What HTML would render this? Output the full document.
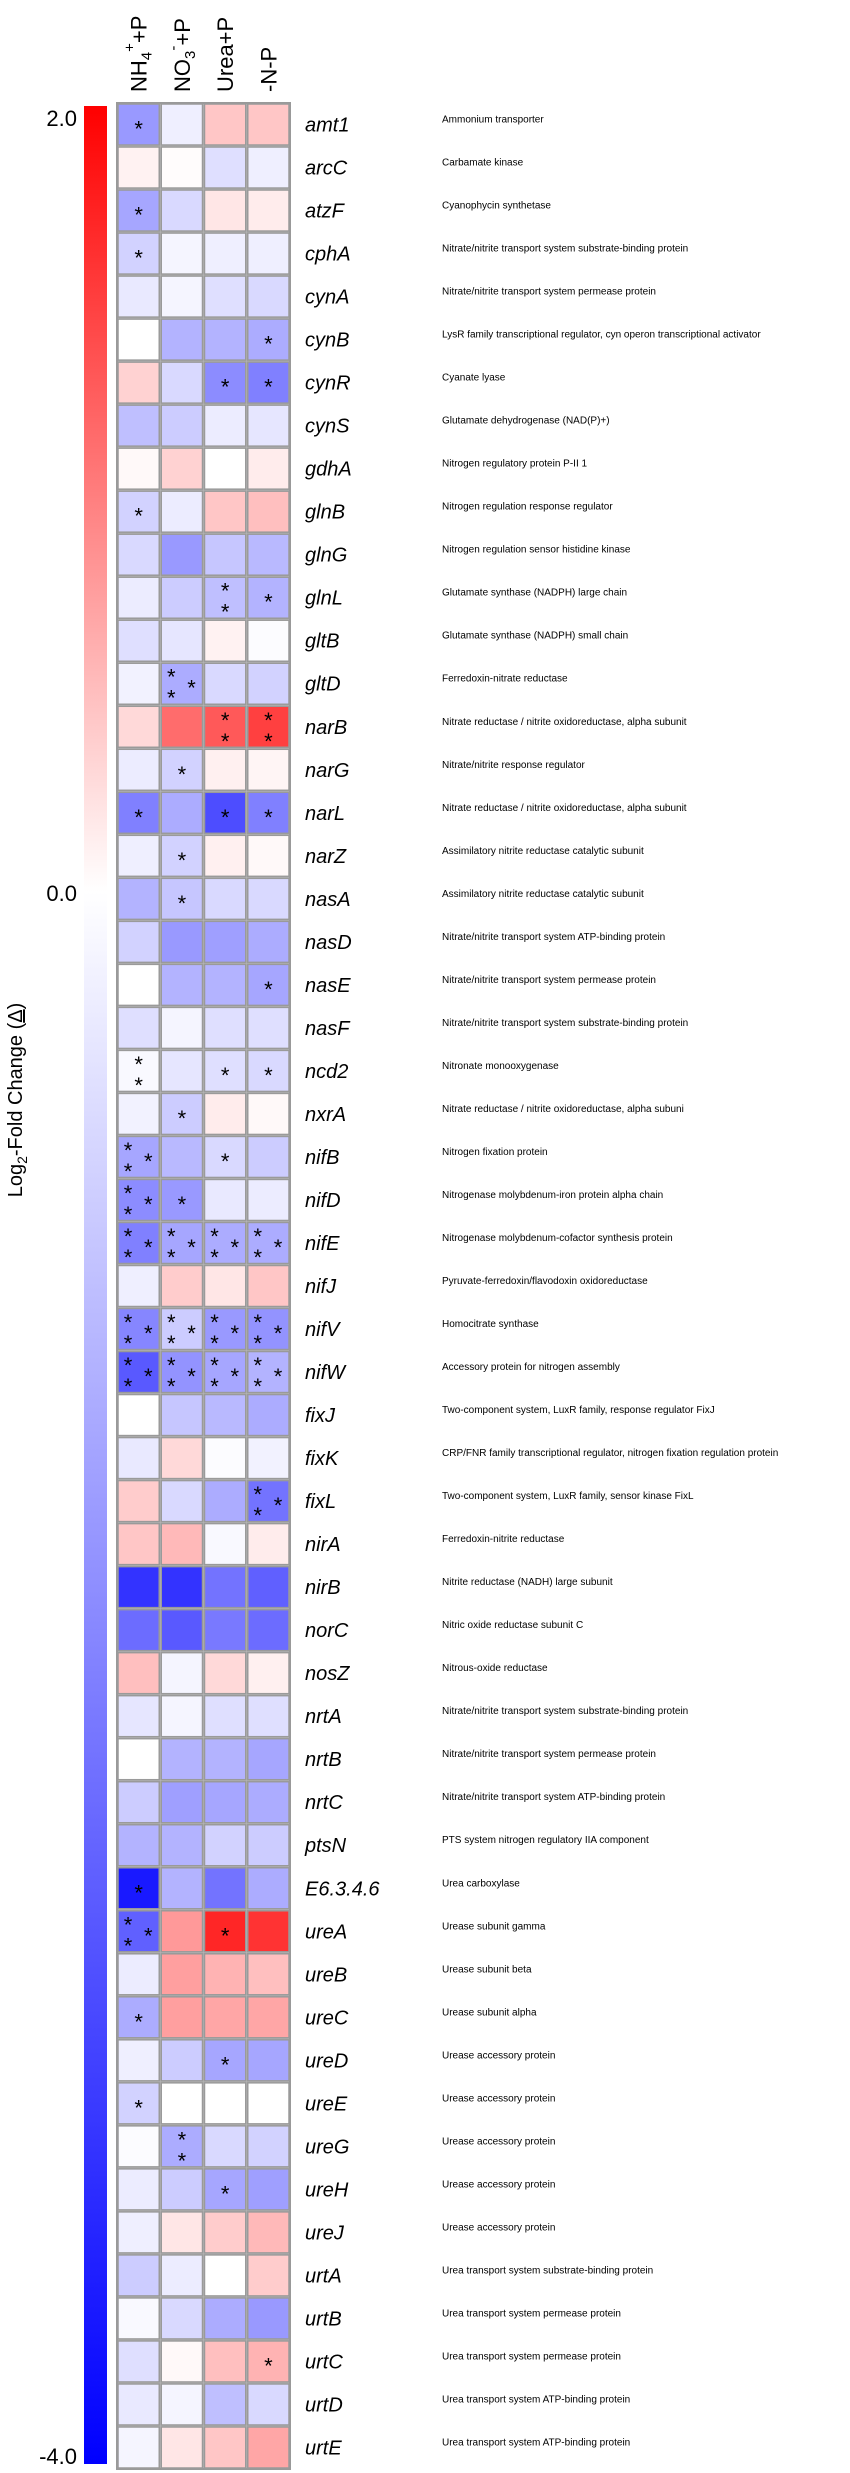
<!DOCTYPE html>
<html><head><meta charset="utf-8"><style>
html,body{margin:0;padding:0;background:#fff;}
svg{display:block;font-family:"Liberation Sans",Arial,sans-serif;}
</style></head><body>
<svg id="chart" width="850" height="2473" viewBox="0 0 850 2473" xmlns="http://www.w3.org/2000/svg">
<defs>
<linearGradient id="cbar" x1="0" y1="0" x2="0" y2="1">
<stop offset="0" stop-color="#ff0000"/><stop offset="0.3333" stop-color="#ffffff"/><stop offset="1" stop-color="#0000ff"/>
</linearGradient>
</defs>
<rect x="84" y="106" width="23" height="2358" fill="url(#cbar)"/>
<g font-size="22" text-anchor="end" fill="#000">
<text x="77" y="126">2.0</text>
<text x="77" y="901">0.0</text>
<text x="77" y="2464">-4.0</text>
</g>
<text transform="translate(22,1100) rotate(-90)" text-anchor="middle" font-size="20">Log<tspan font-size="14" dy="5">2</tspan><tspan dy="-5">-Fold Change (</tspan><tspan text-decoration="underline">Δ</tspan>)</text>
<g id="headers" font-size="22" fill="#000"></g>
<rect x="117" y="103" width="173" height="2366" fill="#bbb" stroke="#999" stroke-width="2"/>
<g id="cells"></g>
<g id="labels"></g>
</svg>
<script>
const genes=["amt1","arcC","atzF","cphA","cynA","cynB","cynR","cynS","gdhA","glnB","glnG","glnL","gltB","gltD","narB","narG","narL","narZ","nasA","nasD","nasE","nasF","ncd2","nxrA","nifB","nifD","nifE","nifJ","nifV","nifW","fixJ","fixK","fixL","nirA","nirB","norC","nosZ","nrtA","nrtB","nrtC","ptsN","E6.3.4.6","ureA","ureB","ureC","ureD","ureE","ureG","ureH","ureJ","urtA","urtB","urtC","urtD","urtE"];
const descriptions=["Ammonium transporter","Carbamate kinase","Cyanophycin synthetase","Nitrate/nitrite transport system substrate-binding protein","Nitrate/nitrite transport system permease protein","LysR family transcriptional regulator, cyn operon transcriptional activator","Cyanate lyase","Glutamate dehydrogenase (NAD(P)+)","Nitrogen regulatory protein P-II 1","Nitrogen regulation response regulator","Nitrogen regulation sensor histidine kinase","Glutamate synthase (NADPH) large chain","Glutamate synthase (NADPH) small chain","Ferredoxin-nitrate reductase","Nitrate reductase / nitrite oxidoreductase, alpha subunit","Nitrate/nitrite response regulator","Nitrate reductase / nitrite oxidoreductase, alpha subunit","Assimilatory nitrite reductase catalytic subunit","Assimilatory nitrite reductase catalytic subunit","Nitrate/nitrite transport system ATP-binding protein","Nitrate/nitrite transport system permease protein","Nitrate/nitrite transport system substrate-binding protein","Nitronate monooxygenase","Nitrate reductase / nitrite oxidoreductase, alpha subuni","Nitrogen fixation protein","Nitrogenase molybdenum-iron protein alpha chain","Nitrogenase molybdenum-cofactor synthesis protein","Pyruvate-ferredoxin/flavodoxin oxidoreductase","Homocitrate synthase","Accessory protein for nitrogen assembly","Two-component system, LuxR family, response regulator FixJ","CRP/FNR family transcriptional regulator, nitrogen fixation regulation protein","Two-component system, LuxR family, sensor kinase FixL","Ferredoxin-nitrite reductase","Nitrite reductase (NADH) large subunit","Nitric oxide reductase subunit C","Nitrous-oxide reductase","Nitrate/nitrite transport system substrate-binding protein","Nitrate/nitrite transport system permease protein","Nitrate/nitrite transport system ATP-binding protein","PTS system nitrogen regulatory IIA component","Urea carboxylase","Urease subunit gamma","Urease subunit beta","Urease subunit alpha","Urease accessory protein","Urease accessory protein","Urease accessory protein","Urease accessory protein","Urease accessory protein","Urea transport system substrate-binding protein","Urea transport system permease protein","Urea transport system permease protein","Urea transport system ATP-binding protein","Urea transport system ATP-binding protein"];
const conditions=["NH4+P","NO3-+P","Urea+P","-N-P"];
const valNH4=[-1.6,0.1,-1.4,-0.7,-0.35,0,0.35,-1.0,0.05,-0.7,-0.6,-0.3,-0.5,-0.2,0.3,-0.3,-2.0,-0.25,-1.2,-0.7,0,-0.5,-0.1,-0.2,-1.4,-1.8,-2.0,-0.25,-1.9,-2.6,0,-0.35,0.4,0.45,-3.2,-2.3,0.5,-0.4,0,-0.8,-1.2,-3.6,-2.5,-0.3,-1.3,-0.25,-0.7,-0.05,-0.3,-0.25,-0.8,-0.1,-0.5,-0.35,-0.15];
const valNO3=[-0.25,0.02,-0.6,-0.15,-0.15,-1.2,-0.6,-0.8,0.35,-0.3,-1.6,-0.8,-0.4,-1.3,1.15,-0.7,-1.3,-0.7,-0.9,-1.6,-1.2,-0.15,-0.4,-0.8,-1.1,-1.6,-1.4,0.4,-0.8,-1.7,-0.9,0.3,-0.6,0.55,-3.2,-2.6,-0.15,-0.15,-1.2,-1.5,-1.2,-1.2,0.8,0.75,0.75,-0.8,0,-1.3,-0.8,0.2,-0.3,-0.6,0.05,-0.15,0.2];
const valUrea=[0.45,-0.5,0.2,-0.25,-0.5,-1.2,-1.8,-0.3,0,0.45,-0.9,-1.0,0.1,-0.6,1.3,0.12,-2.8,0.12,-0.6,-1.5,-1.2,-0.5,-0.5,0.15,-0.6,-0.35,-1.3,0.2,-1.6,-1.4,-1.1,-0.05,-1.3,-0.1,-2.2,-2.1,0.3,-0.5,-1.2,-1.4,-0.7,-2.2,1.7,0.6,0.7,-1.4,0,-0.6,-1.4,0.4,0,-1.3,0.5,-1.0,0.45];
const valNP=[0.45,-0.25,0.15,-0.25,-0.6,-1.3,-2.0,-0.4,0.15,0.5,-1.1,-1.2,-0.05,-0.7,1.5,0.08,-2.0,0.05,-0.6,-1.3,-1.4,-0.5,-0.6,0.05,-0.8,-0.3,-1.3,0.45,-1.7,-1.2,-1.3,-0.2,-2.2,0.15,-2.5,-2.3,0.12,-0.5,-1.4,-1.3,-0.8,-1.3,1.6,0.5,0.7,-1.4,0,-0.7,-1.5,0.55,0.4,-1.6,0.6,-0.6,0.7];
const starsNH4=[1,0,1,1,0,0,0,0,0,1,0,0,0,0,0,0,1,0,0,0,0,0,2,0,3,3,3,0,3,3,0,0,0,0,0,0,0,0,0,0,0,1,3,0,1,0,1,0,0,0,0,0,0,0,0];
const starsNO3=[0,0,0,0,0,0,0,0,0,0,0,0,0,3,0,1,0,1,1,0,0,0,0,1,0,1,3,0,3,3,0,0,0,0,0,0,0,0,0,0,0,0,0,0,0,0,0,2,0,0,0,0,0,0,0];
const starsUrea=[0,0,0,0,0,0,1,0,0,0,0,2,0,0,2,0,1,0,0,0,0,0,1,0,1,0,3,0,3,3,0,0,0,0,0,0,0,0,0,0,0,0,1,0,0,1,0,0,1,0,0,0,0,0,0];
const starsNP=[0,0,0,0,0,1,1,0,0,0,0,1,0,0,2,0,1,0,0,0,1,0,1,0,0,0,3,0,3,3,0,0,3,0,0,0,0,0,0,0,0,0,0,0,0,0,0,0,0,0,0,0,1,0,0];
const vmin=-4, vmax=2;
</script>
<script>
const NS="http://www.w3.org/2000/svg";
const gx0=117, gy0=103, colW=173/4, rowH=2366/genes.length;
function xPos(c){return gx0+c*colW;}
function yPos(r){return gy0+r*rowH;}
function color(v){
  let r,g,b;
  if(v>=0){const t=Math.min(v/vmax,1);r=255;g=Math.round(255*(1-t));b=g;}
  else{const t=Math.min(v/vmin,1);b=255;r=Math.round(255*(1-t));g=r;}
  return `rgb(${r},${g},${b})`;
}
function mk(tag,attrs,parent){const e=document.createElementNS(NS,tag);for(const k in attrs)e.setAttribute(k,attrs[k]);parent.appendChild(e);return e;}
const series=[valNH4,valNO3,valUrea,valNP];
const stars=[starsNH4,starsNO3,starsUrea,starsNP];
const cells=document.getElementById('cells');
const labels=document.getElementById('labels');
genes.forEach((g,r)=>{
  for(let c=0;c<4;c++){
    const x=xPos(c), y=yPos(r);
    const rect=mk('rect',{x:x+1,y:y+1,width:colW-2,height:rowH-2,fill:color(series[c][r]),stroke:'#9a9a9a','stroke-width':1.5},cells);
    
    
    const n=stars[c][r];
    let pts=[];
    if(n===1)pts=[[x+colW/2,y+rowH/2+4]];
    else if(n===2)pts=[[x+colW/2,y+rowH/2-7],[x+colW/2,y+rowH/2+14]];
    else if(n===3)pts=[[x+11,y+rowH/2-7],[x+11,y+rowH/2+14],[x+colW-12,y+rowH/2+4]];
    pts.forEach(p=>{
      const s=mk('text',{x:p[0],y:p[1]+8,'text-anchor':'middle','font-size':22,fill:'#000'},cells);
      s.textContent='*';
      
      
    });
  }
  const cy=yPos(r)+rowH/2;
  const gt=mk('text',{x:305,y:cy+7,'font-size':20,'font-style':'italic',fill:'#000'},labels);
  gt.textContent=g;
  
  
  const dt=mk('text',{x:442,y:cy-2,'font-size':10,fill:'#000'},labels);
  dt.textContent=descriptions[r];
  
  
});
const hdr=document.getElementById('headers');
const hdrHTML=['NH<tspan font-size="15" dy="5">4</tspan><tspan font-size="15" dy="-17">+</tspan><tspan dy="12">+P</tspan>',
 'NO<tspan font-size="15" dy="5">3</tspan><tspan font-size="15" dy="-17">-</tspan><tspan dy="12">+P</tspan>',
 'Urea+P','-N-P'];
conditions.forEach((c,i)=>{
  const t=mk('text',{transform:`translate(${xPos(i)+colW/2+8},92) rotate(-90)`},hdr);
  t.innerHTML=hdrHTML[i];
  
  
});
</script>
</body></html>
